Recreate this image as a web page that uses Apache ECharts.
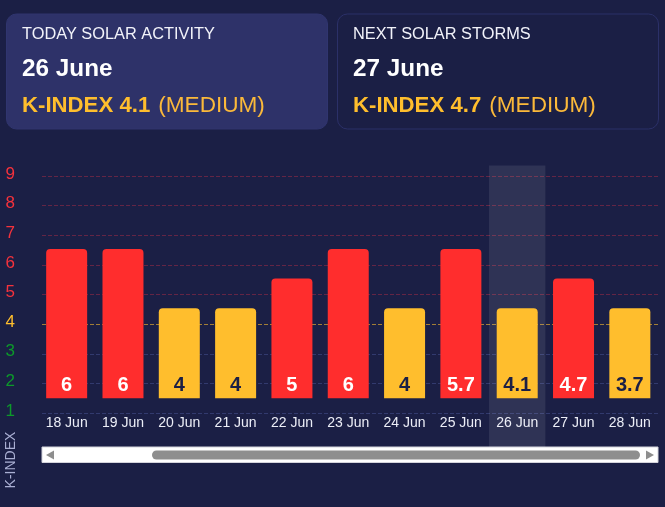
<!DOCTYPE html>
<html>
<head>
<meta charset="utf-8">
<style>html,body{margin:0;padding:0;background:#1b1f45;overflow:hidden}#c{width:665px;height:507px}</style>
<script src="https://cdn.jsdelivr.net/npm/echarts@6/dist/echarts.min.js"></script>
</head>
<body>
<div id="c"></div>
<script>
const categories = ['18 Jun','19 Jun','20 Jun','21 Jun','22 Jun','23 Jun','24 Jun','25 Jun','26 Jun','27 Jun','28 Jun'];
const barBase = 1.5;
const barTops = [6.54,6.54,4.54,4.54,5.54,6.54,4.54,6.54,4.54,5.54,4.54];
const kIndexLabels = ['6','6','4','4','5','6','4','5.7','4.1','4.7','3.7'];
const todayCategory = '26 Jun';
const RED = '#ff2d2d', AMBER = '#ffbe2d', DARK = '#1b1f45';
const FONT = '"Liberation Sans", Arial, sans-serif';
const tickColors = {1:'#0c9a2a',2:'#0c9a2a',3:'#0c9a2a',4:'#ffbe2d',5:'#f5323c',6:'#f5323c',7:'#f5323c',8:'#f5323c',9:'#f5323c'};
const B = 'rgba(80,90,160,0.45)', R = 'rgba(255,50,70,0.32)', A = 'rgba(255,190,45,0.6)';
const lineColors = [B,B,B,A,R,R,R,R,R];

const isRed = l => parseFloat(l) >= 4.5;

function card(x, fill, stroke, title, date, kIndex, level) {
  const tx = x + 15.5;
  return [
    {type:'rect', shape:{x, y:14, width:321, height:115, r:10}, style:{fill, stroke, lineWidth:1}},
    {type:'text', x:tx, y:34, style:{text:title, fill:'#f2f3fa', font:'16.35px '+FONT, verticalAlign:'middle'}},
    {type:'text', x:tx, y:69, style:{text:date, fill:'#ffffff', font:'bold 24.3px '+FONT, verticalAlign:'middle'}},
    {type:'text', x:tx, y:106, style:{
      text:'{b|K-INDEX '+kIndex+'}{n|('+level+')}', verticalAlign:'middle',
      rich:{b:{font:'bold 22.2px '+FONT, fill:AMBER}, n:{font:'22.6px '+FONT, fill:'#fbb93a', padding:[0,0,0,8]}}
    }}
  ];
}

const chart = echarts.init(document.getElementById('c'), null, {width:665, height:507});
const gridBars = {left:38.5, right:7, top:176, bottom:94};
const gridLines = {left:42, right:7, top:176, bottom:94};
const gridBand = {left:38.5, right:7, top:165.5, bottom:60};
const gridTickLabels = {left:42, right:7, top:174, bottom:96};
chart.setOption({
  animation:false,
  backgroundColor:'#1b1f45',
  grid:[gridBars, gridLines, gridBand, gridTickLabels],
  xAxis:[
    {type:'category', gridIndex:0, data:categories, axisLine:{show:false}, axisTick:{show:false},
     axisLabel:{color:'#eceef7', fontFamily:FONT, fontSize:14, margin:3, interval:0}},
    {type:'category', gridIndex:1, data:categories, show:false},
    {type:'category', gridIndex:2, data:categories, show:false},
    {type:'category', gridIndex:3, data:categories, show:false}
  ],
  yAxis:[
    {type:'value', gridIndex:0, min:1, max:9, interval:1, show:false, splitLine:{show:false}},
    {type:'value', gridIndex:1, min:1, max:9, interval:1,
     axisLine:{show:false}, axisTick:{show:false}, axisLabel:{show:false},
     splitLine:{show:true, lineStyle:{type:'dashed', width:1, color:lineColors}}},
    {type:'value', gridIndex:2, min:0, max:1, show:false, splitLine:{show:false}},
    {type:'value', gridIndex:3, min:1, max:9, interval:1,
     axisLine:{show:false}, axisTick:{show:false}, splitLine:{show:false},
     axisLabel:{fontFamily:FONT, fontSize:17, margin:27, color:v => tickColors[v]}}
  ],
  series:[
    {type:'bar', name:'today', xAxisIndex:2, yAxisIndex:2, barWidth:'100%', z:1, silent:true,
     data:categories.map(c => c === todayCategory ? 1 : 0),
     itemStyle:{color:'rgba(255,255,255,0.09)'}},
    {type:'bar', name:'base', stack:'k', xAxisIndex:0, yAxisIndex:0, barWidth:41, silent:true,
     data:categories.map(() => barBase), itemStyle:{color:'rgba(0,0,0,0)'}},
    {type:'bar', name:'K-index', stack:'k', xAxisIndex:0, yAxisIndex:0, barWidth:41,
     data:barTops.map((t,i) => ({
       value:t - barBase,
       itemStyle:{color:isRed(kIndexLabels[i]) ? RED : AMBER, borderRadius:[4,4,0,0]},
       label:{color:isRed(kIndexLabels[i]) ? '#ffffff' : DARK}
     })),
     label:{show:true, position:'insideBottom', distance:3, fontFamily:FONT, fontSize:20, fontWeight:'bold',
            formatter:p => kIndexLabels[p.dataIndex]}}
  ],
  graphic:[
    ...card(6.5, '#2e3269', '#30356f', 'TODAY SOLAR ACTIVITY','26 June','4.1','MEDIUM'),
    ...card(337.5, '#1b1f45', '#2b3068', 'NEXT SOLAR STORMS','27 June','4.7','MEDIUM'),
    {type:'text', x:11, y:460, rotation:Math.PI/2, style:{text:'K-INDEX', fill:'#a9aed2', font:'14px '+FONT, align:'center', verticalAlign:'middle'}},
    {type:'rect', shape:{x:42, y:447, width:616, height:15.5}, style:{fill:'#ffffff', stroke:'#d4d4dc', lineWidth:1}},
    {type:'rect', shape:{x:152, y:450.5, width:488, height:9, r:4.5}, style:{fill:'#8e8e8e'}},
    {type:'polygon', shape:{points:[[46,455],[54,450.5],[54,459.5]]}, style:{fill:'#8e8e8e'}},
    {type:'polygon', shape:{points:[[654,455],[646,450.5],[646,459.5]]}, style:{fill:'#8e8e8e'}}
  ]
});
</script>
</body>
</html>
